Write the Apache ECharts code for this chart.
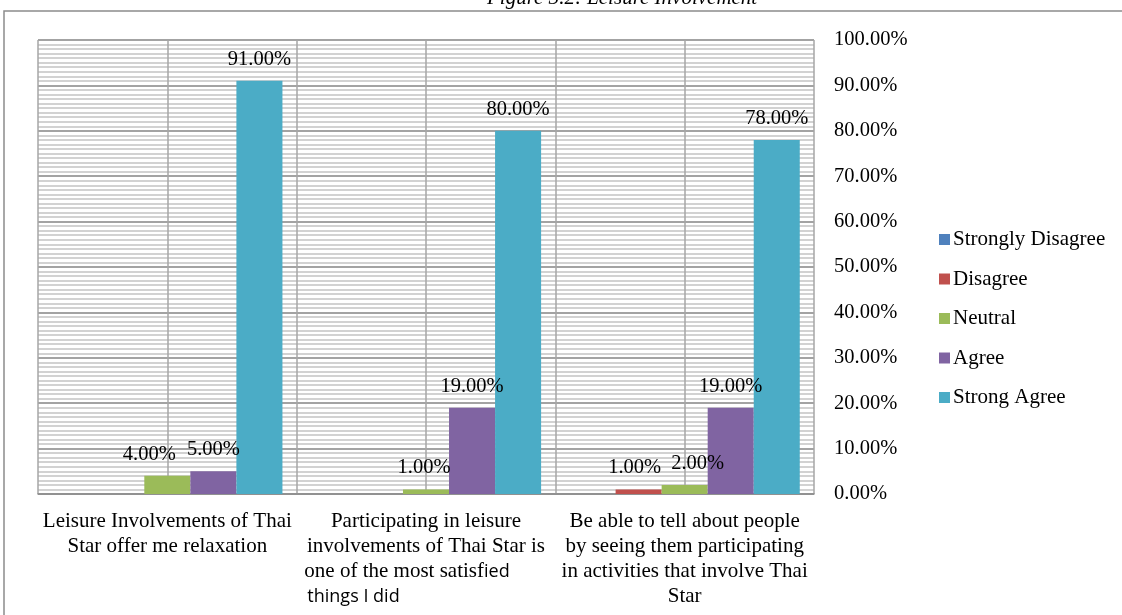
<!DOCTYPE html>
<html>
<head>
<meta charset="utf-8">
<script src="https://cdn.jsdelivr.net/npm/echarts@6/dist/echarts.min.js"></script>
<style>
  html, body { margin: 0; padding: 0; background: #fff; }
  #chart { width: 1122px; height: 615px; }
</style>
</head>
<body>
<div id="chart"></div>
<script>
const categories = [
  'Leisure Involvements of Thai\nStar offer me relaxation',
  'Participating in leisure involvements of Thai Star is one of the most satisfied things I did',
  'Be able to tell about people\nby seeing them participating\nin activities that involve Thai\nStar'
];
const stronglyDisagree = [0, 0, 0];
const disagree = [0, 0, 1];
const neutral = [4, 1, 2];
const agree = [5, 19, 19];
const strongAgree = [91, 80, 78];
const yTicks = [0, 10, 20, 30, 40, 50, 60, 70, 80, 90, 100];

const serif = 'Liberation Serif';
const colors = ['#4F81BD', '#C0504D', '#9BBB59', '#8064A2', '#4BACC6'];

// label offsets where Excel pushed labels aside
const labelShift = {
  'Neutral': [[-18, 0], [-2, 0], [13, 0]],
  'Disagree': [[0, 0], [0, 0], [-4, 0]]
};

function makeSeries(name, values) {
  return {
    name: name,
    type: 'bar',
    barGap: '0%',
    barCategoryGap: '11%',
    data: values.map((v, i) => ({
      value: v,
      label: { offset: (labelShift[name] || [])[i] || [0, 0] }
    })),
    label: {
      show: true,
      position: 'top',
      distance: 11,
      fontFamily: serif,
      fontSize: 20.5,
      color: '#000',
      formatter: p => p.value > 0 ? p.value.toFixed(2) + '%' : ''
    }
  };
}

const chart = echarts.init(document.getElementById('chart'));
chart.setOption({
  animation: false,
  color: colors,
  textStyle: { fontFamily: serif },
  title: {
    text: 'Figure 3.2: Leisure Involvement',
    left: 487,
    top: -12,
    padding: 0,
    textStyle: { fontFamily: serif, fontStyle: 'italic', fontWeight: 'normal', fontSize: 21, color: '#000' }
  },
  graphic: [{
    type: 'rect',
    shape: { x: 4, y: 11, width: 1140, height: 640 },
    style: { fill: 'none', stroke: '#8c8c8c', lineWidth: 1.5 },
    silent: true
  }],
  legend: {
    orient: 'vertical',
    left: 939,
    top: 229,
    padding: 0,
    itemWidth: 11,
    itemHeight: 11,
    itemGap: 18.5,
    icon: 'rect',
    textStyle: { fontFamily: serif, fontSize: 21, color: '#000', padding: [0, 0, 0, -2] }
  },
  grid: { left: 38, right: 308, top: 40, bottom: 121 },
  xAxis: [{
    type: 'category',
    data: categories,
    axisLine: { lineStyle: { color: '#8c8c8c', width: 1.5 } },
    axisTick: { show: false },
    splitLine: { show: false },
    axisLabel: {
      interval: 0,
      margin: 15,
      fontFamily: serif,
      fontSize: 21,
      lineHeight: 25,
      color: '#000',
      formatter: (v, i) => {
        if (i !== 1) return v;
        return '{s|Participating in leisure}\n{s|involvements of Thai Star is}\n' +
          '{s|one of the most satisf}{c|ied}{p| }\n{c|things I did}{q| }';
      },
      rich: {
        s: { fontFamily: serif, fontSize: 21, lineHeight: 25, color: '#000' },
        c: { fontFamily: 'Open Sans', fontSize: 18, lineHeight: 25, color: '#000' },
        p: { width: 38, fontSize: 18, lineHeight: 25 },
        q: { width: 145, fontSize: 18, lineHeight: 25 }
      }
    }
  }, {
    type: 'category',
    data: [1, 2, 3, 4, 5, 6],
    position: 'bottom',
    axisLine: { show: false },
    axisTick: { show: false },
    axisLabel: { show: false },
    splitLine: { show: true, lineStyle: { color: '#a6a6a6', width: 1.5 } }
  }],
  yAxis: {
    type: 'value',
    position: 'right',
    min: yTicks[0],
    max: yTicks[yTicks.length - 1],
    interval: 10,
    axisLine: { show: false },
    axisTick: { show: false },
    axisLabel: {
      margin: 20,
      padding: [3, 0, 0, 0],
      fontFamily: serif,
      fontSize: 20.5,
      color: '#000',
      formatter: v => v.toFixed(2) + '%'
    },
    splitLine: { lineStyle: { color: '#858585', width: 1.5 } },
    minorTick: { show: false, splitNumber: 10 },
    minorSplitLine: { show: true, lineStyle: { color: '#c4c4c4', width: 1.5 } }
  },
  series: [
    makeSeries('Strongly Disagree', stronglyDisagree),
    makeSeries('Disagree', disagree),
    makeSeries('Neutral', neutral),
    makeSeries('Agree', agree),
    makeSeries('Strong Agree', strongAgree)
  ]
});
</script>
</body>
</html>
